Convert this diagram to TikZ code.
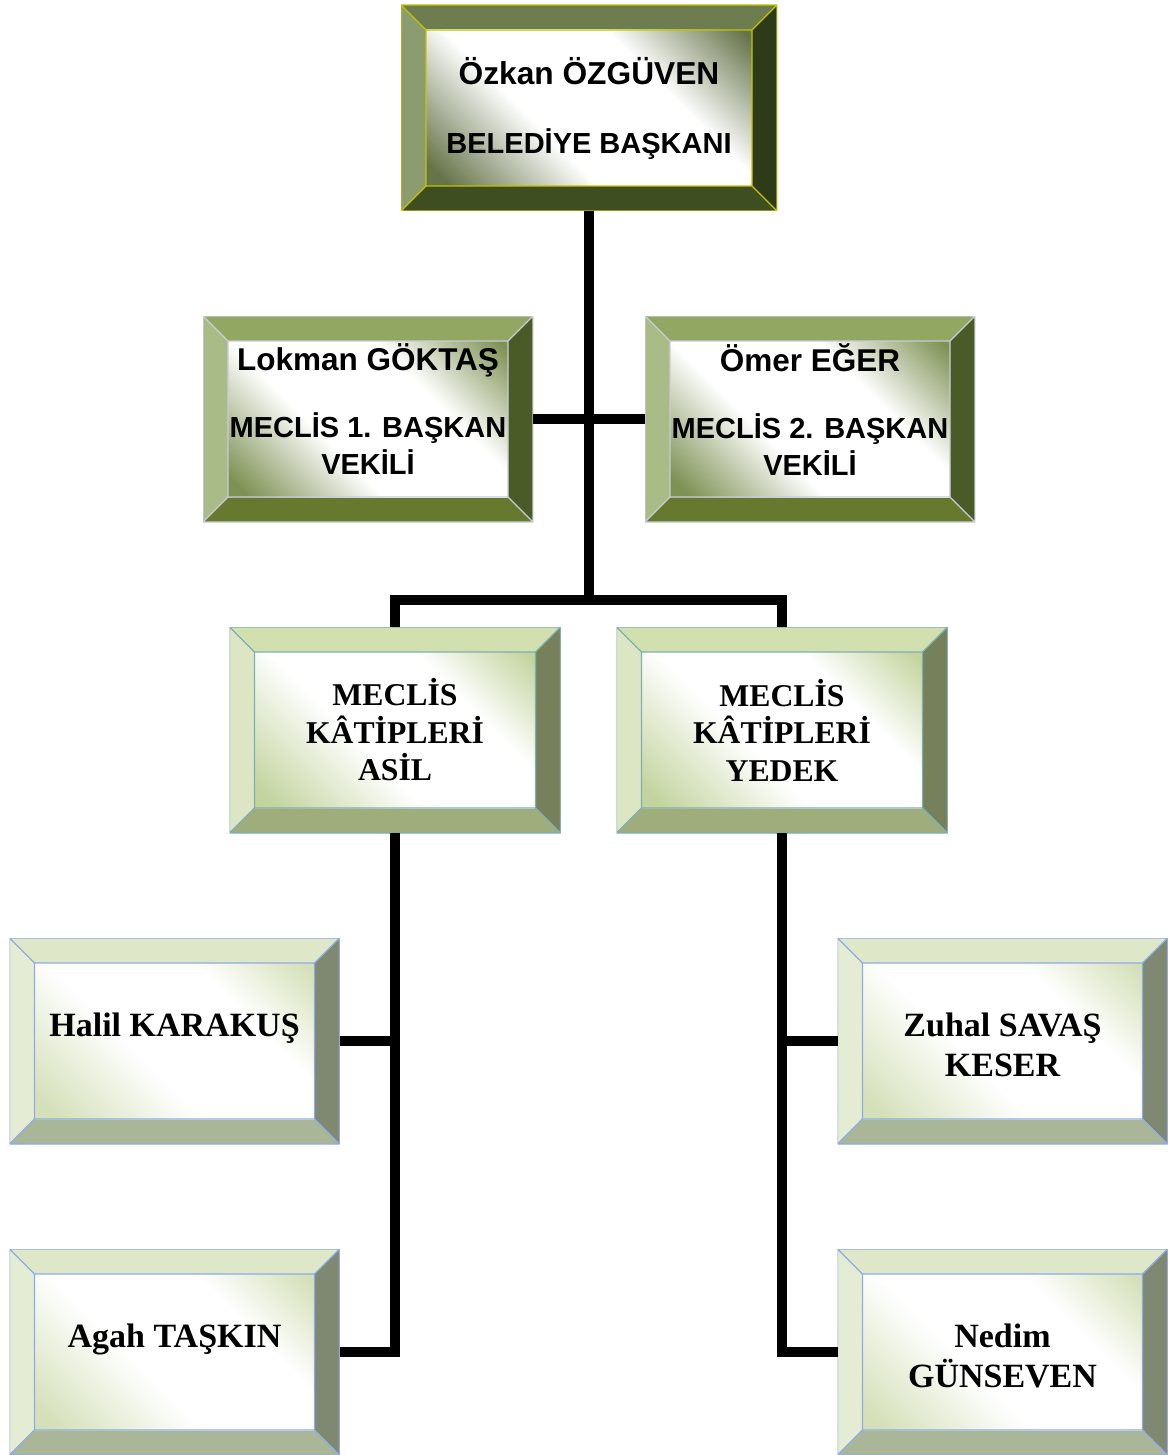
\documentclass[tikz,border=0pt]{standalone}
\usepackage{fontspec}
\setmainfont{Liberation Serif}
\newfontfamily\headfont{Liberation Sans}
\usetikzlibrary{calc}

\definecolor{headtop}{HTML}{6E7D50}
\definecolor{headleft}{HTML}{8D9C70}
\definecolor{headright}{HTML}{2F3B18}
\definecolor{headbottom}{HTML}{3F4E20}
\definecolor{headedge}{HTML}{C4C400}
\definecolor{headcorner}{HTML}{66744A}
\definecolor{deptop}{HTML}{92A862}
\definecolor{depleft}{HTML}{A9BB86}
\definecolor{depright}{HTML}{4B5B27}
\definecolor{depbottom}{HTML}{67782F}
\definecolor{depedge}{HTML}{C8CCD8}
\definecolor{depcorner}{HTML}{7F9255}
\definecolor{clerktop}{HTML}{D2DFAE}
\definecolor{clerkleft}{HTML}{DCE6C5}
\definecolor{clerkright}{HTML}{76815C}
\definecolor{clerkbottom}{HTML}{9FAD7D}
\definecolor{clerkedge}{HTML}{7DB0B0}
\definecolor{clerkcorner}{HTML}{C3D49E}
\definecolor{memtop}{HTML}{DFE7C9}
\definecolor{memleft}{HTML}{E5ECD4}
\definecolor{memright}{HTML}{7F8870}
\definecolor{membottom}{HTML}{AAB698}
\definecolor{memedge}{HTML}{8EABE8}
\definecolor{memcorner}{HTML}{D4E0B8}

\pgfdeclarehorizontalshading{headfade}{100bp}{color(0bp)=(headcorner); color(18bp)=(headcorner); color(40bp)=(white); color(64bp)=(white); color(84bp)=(headcorner); color(100bp)=(headcorner)}
\pgfdeclarehorizontalshading{depfade}{100bp}{color(0bp)=(depcorner); color(18bp)=(depcorner); color(40bp)=(white); color(64bp)=(white); color(84bp)=(depcorner); color(100bp)=(depcorner)}
\pgfdeclarehorizontalshading{clerkfade}{100bp}{color(0bp)=(clerkcorner); color(18bp)=(clerkcorner); color(42bp)=(white); color(66bp)=(white); color(84bp)=(clerkcorner); color(100bp)=(clerkcorner)}
\pgfdeclarehorizontalshading{memfade}{100bp}{color(0bp)=(memcorner); color(18bp)=(memcorner); color(42bp)=(white); color(66bp)=(white); color(84bp)=(memcorner); color(100bp)=(memcorner)}

% bevelled frame: top, left, right, bottom, inner shading, edge colour
\newcommand{\bevelfill}[6]{%
  \path (path picture bounding box.north west) coordinate (o1)
        (path picture bounding box.north east) coordinate (o2)
        (path picture bounding box.south east) coordinate (o3)
        (path picture bounding box.south west) coordinate (o4);
  \path ([shift={(25pt,-25pt)}]o1) coordinate (i1)
        ([shift={(-25pt,-25pt)}]o2) coordinate (i2)
        ([shift={(-25pt,25pt)}]o3) coordinate (i3)
        ([shift={(25pt,25pt)}]o4) coordinate (i4);
  \fill[#1] (o1) -- (o2) -- (i2) -- (i1) -- cycle;
  \fill[#2] (o1) -- (i1) -- (i4) -- (o4) -- cycle;
  \fill[#3] (o2) -- (o3) -- (i3) -- (i2) -- cycle;
  \fill[#4] (o4) -- (i4) -- (i3) -- (o3) -- cycle;
  \shade[shading=#5, shading angle=45] (i1) rectangle (i3);
  \draw[#6, line width=1.2pt] (o1) rectangle (o3) (i1) rectangle (i3)
        (o1) -- (i1) (o2) -- (i2) (o3) -- (i3) (o4) -- (i4);
}

\tikzset{
  frame/.style={inner sep=0pt, outer sep=0pt, align=center, minimum height=206pt},
  headbox/.style={frame, minimum width=376pt, font=\headfont\bfseries\fontsize{29}{37}\selectfont,
    path picture={\bevelfill{headtop}{headleft}{headright}{headbottom}{headfade}{headedge}}},
  deputybox/.style={frame, minimum width=330pt, font=\headfont\bfseries\fontsize{29}{37}\selectfont,
    path picture={\bevelfill{deptop}{depleft}{depright}{depbottom}{depfade}{depedge}}},
  clerkbox/.style={frame, minimum width=331pt, font=\bfseries\fontsize{31.7}{37.5}\selectfont,
    path picture={\bevelfill{clerktop}{clerkleft}{clerkright}{clerkbottom}{clerkfade}{clerkedge}}},
  memberbox/.style={frame, minimum width=330pt, font=\bfseries\fontsize{34}{40}\selectfont,
    path picture={\bevelfill{memtop}{memleft}{memright}{membottom}{memfade}{memedge}}},
  link/.style={line width=10pt, line join=miter}
}

\begin{document}
\begin{tikzpicture}[x=1pt,y=-1pt]
\useasboundingbox (0,0) rectangle (1168,1455);

\node[headbox] (boss) at (589,108) {{\fontsize{31.7}{37}\selectfont Özkan ÖZGÜVEN}\\[32pt] BELEDİYE BAŞKANI};
\node[deputybox] (vicea) at (368,419) {{\fontsize{31.5}{37}\selectfont Lokman GÖKTAŞ}\\[30pt] MECLİS 1. BAŞKAN\\ VEKİLİ\\[-18pt]\mbox{}};
\node[deputybox] (viceb) at (810,419) {{\fontsize{31.5}{37}\selectfont Ömer EĞER}\\[30pt] MECLİS 2. BAŞKAN\\ VEKİLİ\\[-18pt]\mbox{}};
\node[clerkbox] (asil) at (395,730) {MECLİS\\ KÂTİPLERİ\\ ASİL};
\node[clerkbox] (yedek) at (782,730) {MECLİS\\ KÂTİPLERİ\\ YEDEK};
\node[memberbox] (halil) at (174.5,1041) {Halil KARAKUŞ\\[-8pt]\mbox{}};
\node[memberbox] (agah) at (174.5,1352) {Agah TAŞKIN\\[-8pt]\mbox{}};
\node[memberbox] (zuhal) at (1002.5,1041) {\rule{0pt}{32pt}Zuhal SAVAŞ\\ KESER};
\node[memberbox] (nedim) at (1002.5,1352) {\rule{0pt}{32pt}Nedim\\ GÜNSEVEN};

\coordinate (split) at (589,600);
\draw[link] (boss.south) -- (split);
\draw[link] (vicea.east) -- (viceb.west);
\draw[link] (asil.north) |- (split) -| (yedek.north);
\draw[link] (asil.south) |- (agah.east);
\draw[link] (halil.east) -- (halil.east -| asil.south);
\draw[link] (yedek.south) |- (nedim.west);
\draw[link] (zuhal.west) -- (zuhal.west -| yedek.south);
\end{tikzpicture}
\end{document}
